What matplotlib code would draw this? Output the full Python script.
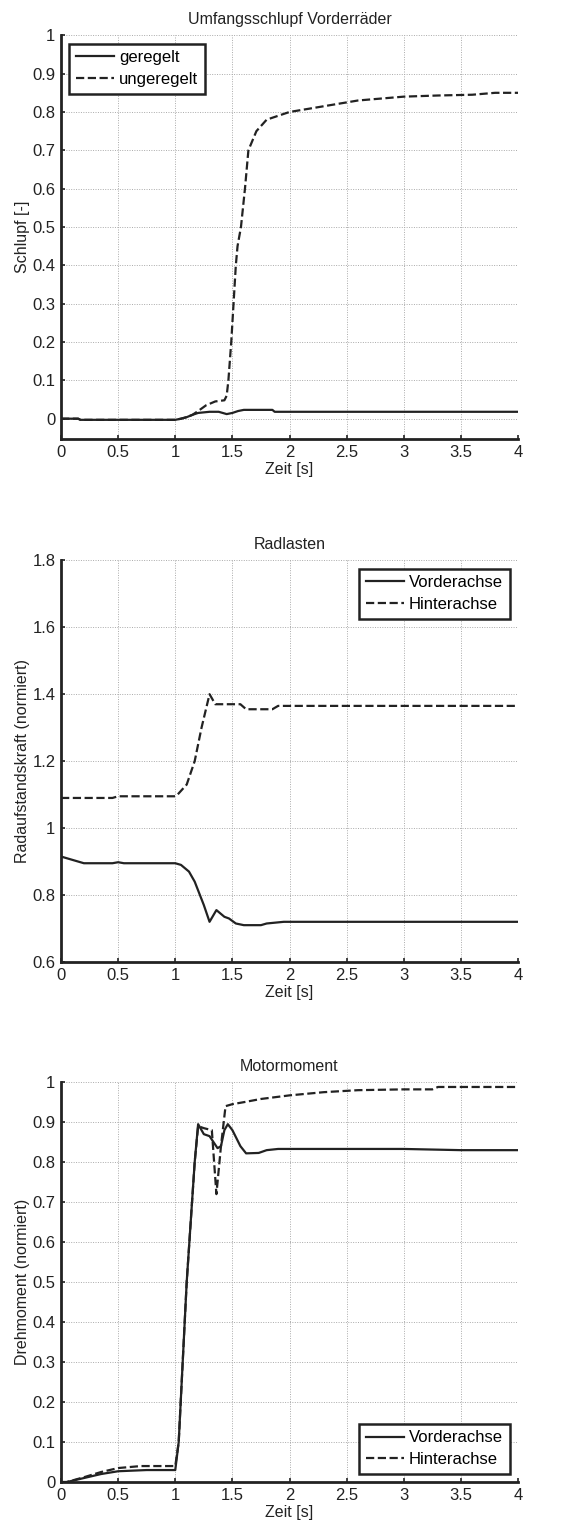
import matplotlib
matplotlib.use('Agg')
import matplotlib.pyplot as plt

plt.rcParams['font.family'] = ['Liberation Sans', 'DejaVu Sans']

# --- Umfangsschlupf Vorderraeder ---
t_geregelt = [0, 0.15, 0.17, 1.0, 1.05, 1.1, 1.15, 1.2, 1.3, 1.38, 1.45, 1.5, 1.55, 1.6, 1.85, 1.87, 4.0]
s_geregelt = [0.0, 0.0, -0.003, -0.003, 0.0, 0.004, 0.01, 0.015, 0.018, 0.018, 0.012, 0.015, 0.02, 0.023, 0.023, 0.018, 0.018]
t_ungeregelt = [0, 0.15, 0.17, 1.0, 1.05, 1.1, 1.15, 1.2, 1.27, 1.35, 1.43, 1.45, 1.465, 1.49, 1.51, 1.53, 1.545,
                1.575, 1.61, 1.64, 1.71, 1.8, 2.0, 2.2, 2.4, 2.6, 2.8, 3.0, 3.3, 3.6, 3.8, 4.0]
s_ungeregelt = [0.0, 0.0, -0.003, -0.003, 0.0, 0.004, 0.01, 0.02, 0.035, 0.045, 0.048, 0.06, 0.1, 0.2, 0.3, 0.4, 0.45,
                0.5, 0.6, 0.7, 0.75, 0.78, 0.8, 0.81, 0.82, 0.83, 0.835, 0.84, 0.843, 0.845, 0.85, 0.85]

# --- Radlasten ---
t_rl_v = [0, 0.1, 0.2, 0.45, 0.5, 0.55, 1.0, 1.05, 1.12, 1.17, 1.25, 1.3, 1.36, 1.43, 1.47, 1.53, 1.6, 1.75, 1.8, 1.95, 4.0]
f_rl_v = [0.915, 0.905, 0.895, 0.895, 0.898, 0.895, 0.895, 0.89, 0.87, 0.84, 0.77, 0.72, 0.755, 0.735, 0.73, 0.715,
          0.71, 0.71, 0.715, 0.72, 0.72]
t_rl_h = [0, 0.45, 0.5, 1.0, 1.02, 1.1, 1.17, 1.23, 1.3, 1.35, 1.57, 1.62, 1.85, 1.9, 4.0]
f_rl_h = [1.09, 1.09, 1.095, 1.095, 1.1, 1.13, 1.2, 1.3, 1.4, 1.37, 1.37, 1.355, 1.355, 1.365, 1.365]

# --- Motormoment ---
t_mm_v = [0, 0.05, 0.2, 0.35, 0.5, 0.75, 1.0, 1.03, 1.1, 1.17, 1.2, 1.25, 1.3, 1.37, 1.4, 1.43, 1.46, 1.5, 1.57,
          1.62, 1.73, 1.8, 1.9, 3.0, 3.5, 4.0]
m_mm_v = [0.0, 0.0, 0.01, 0.02, 0.027, 0.03, 0.03, 0.1, 0.5, 0.8, 0.895, 0.87, 0.865, 0.835, 0.84, 0.88, 0.895, 0.88,
          0.84, 0.822, 0.823, 0.83, 0.833, 0.833, 0.83, 0.83]
t_mm_h = [0, 0.05, 0.2, 0.35, 0.5, 0.7, 1.0, 1.03, 1.1, 1.17, 1.2, 1.25, 1.32, 1.36, 1.4, 1.44, 1.5, 1.6, 1.75, 2.0,
          2.3, 2.6, 3.0, 3.25, 3.3, 4.0]
m_mm_h = [0.0, 0.0, 0.012, 0.025, 0.035, 0.04, 0.04, 0.1, 0.5, 0.8, 0.89, 0.885, 0.88, 0.72, 0.84, 0.94, 0.945, 0.95,
          0.958, 0.967, 0.975, 0.98, 0.982, 0.982, 0.988, 0.988]

xticks = [0, 0.5, 1, 1.5, 2, 2.5, 3, 3.5, 4]
xticklabels = ['0', '0.5', '1', '1.5', '2', '2.5', '3', '3.5', '4']

fig = plt.figure(figsize=(5.84, 15.35), dpi=100)
ax1 = fig.add_axes([0.1045, 0.714, 0.7825, 0.263])
ax2 = fig.add_axes([0.1045, 0.3733, 0.7825, 0.2617])
ax3 = fig.add_axes([0.1045, 0.0345, 0.7825, 0.2605])

lc = '#222222'
kw = dict(color=lc, lw=1.6)


def style(ax, title, ylabel):
    ax.set_xlim(0, 4)
    ax.set_xticks(xticks)
    ax.set_xticklabels(xticklabels)
    ax.grid(True, linestyle=(0, (1, 1.5)), color='#aaaaaa', lw=0.7)
    for s in ['top', 'right']:
        ax.spines[s].set_visible(False)
    for s in ['left', 'bottom']:
        ax.spines[s].set_linewidth(2.0)
        ax.spines[s].set_color(lc)
    ax.tick_params(direction='in', labelsize=12, length=3, width=1.2, pad=4, colors=lc)
    ax.set_title(title, fontsize=11.5, pad=8, color=lc)
    ax.set_xlabel('Zeit [s]', fontsize=11.5, labelpad=2, color=lc)
    ax.set_ylabel(ylabel, fontsize=11.5, labelpad=2, color=lc)


ax1.plot(t_geregelt, s_geregelt, '-', label='geregelt', **kw)
ax1.plot(t_ungeregelt, s_ungeregelt, '--', label='ungeregelt', **kw)
ax1.set_ylim(-0.053, 1.0)
ax1.set_yticks([0, 0.1, 0.2, 0.3, 0.4, 0.5, 0.6, 0.7, 0.8, 0.9, 1])
ax1.set_yticklabels(['0', '0.1', '0.2', '0.3', '0.4', '0.5', '0.6', '0.7', '0.8', '0.9', '1'])
style(ax1, 'Umfangsschlupf Vorderräder', 'Schlupf [-]')

ax2.plot(t_rl_v, f_rl_v, '-', label='Vorderachse', **kw)
ax2.plot(t_rl_h, f_rl_h, '--', label='Hinterachse', **kw)
ax2.set_ylim(0.6, 1.8)
ax2.set_yticks([0.6, 0.8, 1.0, 1.2, 1.4, 1.6, 1.8])
ax2.set_yticklabels(['0.6', '0.8', '1', '1.2', '1.4', '1.6', '1.8'])
style(ax2, 'Radlasten', 'Radaufstandskraft (normiert)')

ax3.plot(t_mm_v, m_mm_v, '-', label='Vorderachse', **kw)
ax3.plot(t_mm_h, m_mm_h, '--', label='Hinterachse', **kw)
ax3.set_ylim(0, 1.0)
ax3.set_yticks([0, 0.1, 0.2, 0.3, 0.4, 0.5, 0.6, 0.7, 0.8, 0.9, 1])
ax3.set_yticklabels(['0', '0.1', '0.2', '0.3', '0.4', '0.5', '0.6', '0.7', '0.8', '0.9', '1'])
style(ax3, 'Motormoment', 'Drehmoment (normiert)')

for ax, loc in [(ax1, 'upper left'), (ax2, 'upper right'), (ax3, 'lower right')]:
    leg = ax.legend(loc=loc, fontsize=12, fancybox=False, framealpha=1, edgecolor=lc,
                    handlelength=2.3, handletextpad=0.3, borderpad=0.4, labelspacing=0.4,
                    borderaxespad=0.5)
    leg.get_frame().set_linewidth(1.8)

plt.savefig('out.png', dpi=100)
